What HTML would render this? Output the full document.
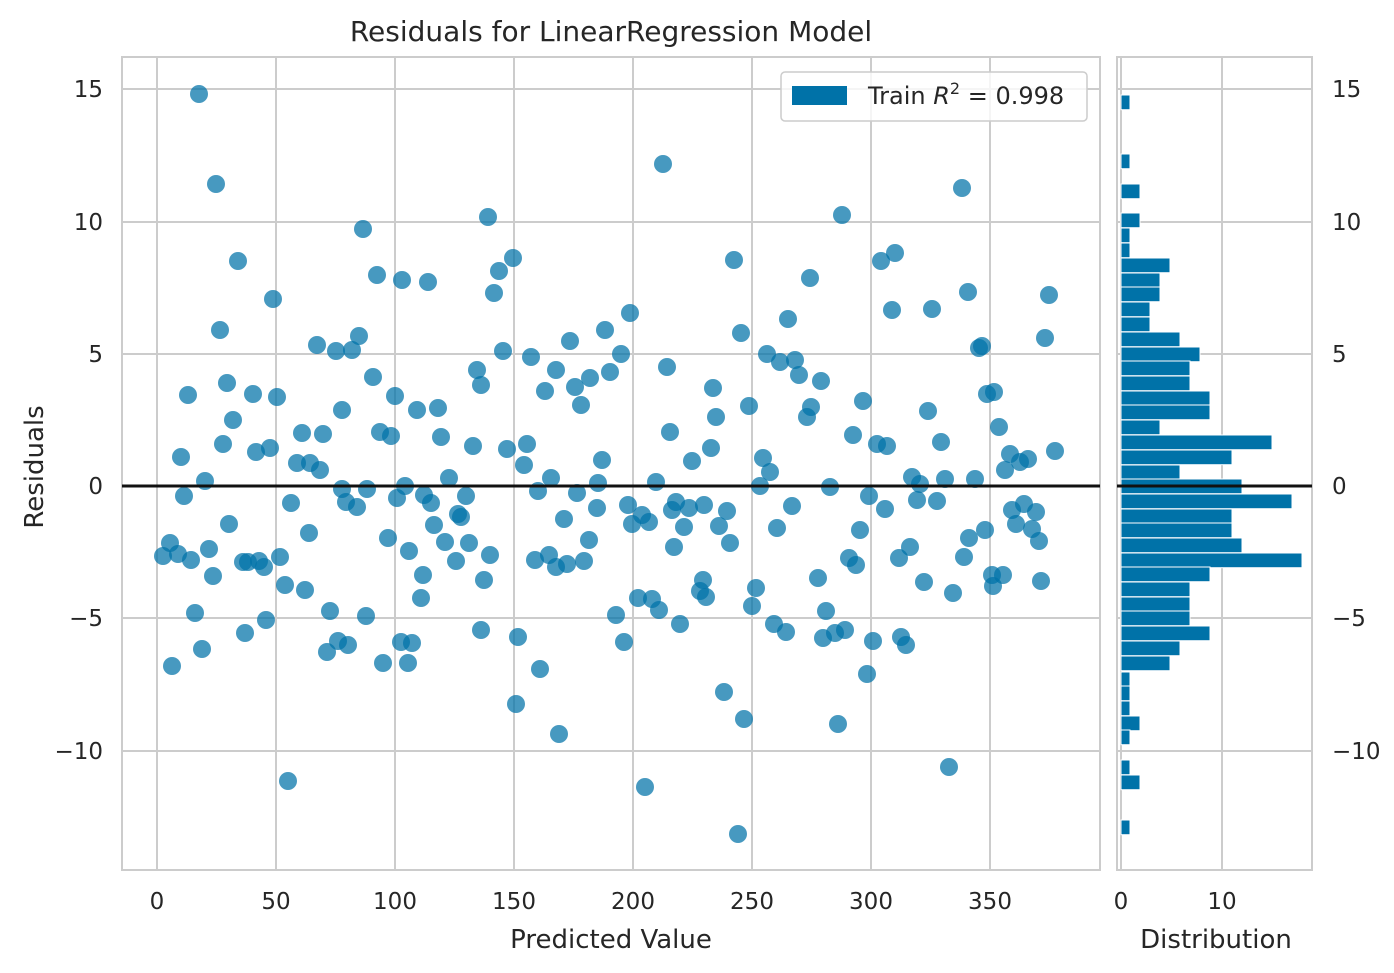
<!DOCTYPE html>
<html><head><meta charset="utf-8"><style>body{margin:0;background:#fff}svg{display:block}text{font-family:"DejaVu Sans","Liberation Sans",sans-serif;fill:#262626}</style></head><body>
<svg width="1394" height="973" xmlns="http://www.w3.org/2000/svg">
<rect width="1394" height="973" fill="#fff"/>
<g stroke="#cccccc" stroke-width="2">
<line x1="157" y1="57" x2="157" y2="870"/><line x1="276" y1="57" x2="276" y2="870"/><line x1="395" y1="57" x2="395" y2="870"/><line x1="514" y1="57" x2="514" y2="870"/><line x1="633" y1="57" x2="633" y2="870"/><line x1="752" y1="57" x2="752" y2="870"/><line x1="871" y1="57" x2="871" y2="870"/><line x1="990" y1="57" x2="990" y2="870"/>
<line x1="122" y1="89" x2="1100" y2="89"/><line x1="122" y1="222" x2="1100" y2="222"/><line x1="122" y1="354" x2="1100" y2="354"/><line x1="122" y1="618" x2="1100" y2="618"/><line x1="122" y1="751" x2="1100" y2="751"/>
<line x1="1121" y1="57" x2="1121" y2="870"/><line x1="1222" y1="57" x2="1222" y2="870"/>
<line x1="1117" y1="89" x2="1312" y2="89"/><line x1="1117" y1="222" x2="1312" y2="222"/><line x1="1117" y1="354" x2="1312" y2="354"/><line x1="1117" y1="618" x2="1312" y2="618"/><line x1="1117" y1="751" x2="1312" y2="751"/>
</g>
<rect x="122" y="57" width="978" height="813" fill="none" stroke="#cccccc" stroke-width="2"/>
<rect x="1117" y="57" width="195" height="813" fill="none" stroke="#cccccc" stroke-width="2"/>
<g fill="#0072A8" fill-opacity="0.72">
<circle cx="199" cy="94" r="9"/><circle cx="216" cy="184" r="9"/><circle cx="663" cy="164" r="9"/><circle cx="488" cy="217" r="9"/><circle cx="363" cy="229" r="9"/><circle cx="962" cy="188" r="9"/><circle cx="842" cy="215" r="9"/><circle cx="238" cy="261" r="9"/><circle cx="895" cy="253" r="9"/><circle cx="881" cy="261" r="9"/><circle cx="734" cy="260" r="9"/><circle cx="499" cy="271" r="9"/><circle cx="513" cy="258" r="9"/><circle cx="494" cy="293" r="9"/><circle cx="810" cy="278" r="9"/><circle cx="402" cy="280" r="9"/><circle cx="428" cy="282" r="9"/><circle cx="377" cy="275" r="9"/><circle cx="273" cy="299" r="9"/><circle cx="1049" cy="295" r="9"/><circle cx="892" cy="310" r="9"/><circle cx="968" cy="292" r="9"/><circle cx="932" cy="309" r="9"/><circle cx="630" cy="313" r="9"/><circle cx="220" cy="330" r="9"/><circle cx="359" cy="336" r="9"/><circle cx="317" cy="345" r="9"/><circle cx="336" cy="351" r="9"/><circle cx="352" cy="350" r="9"/><circle cx="605" cy="330" r="9"/><circle cx="788" cy="319" r="9"/><circle cx="741" cy="333" r="9"/><circle cx="1045" cy="338" r="9"/><circle cx="503" cy="351" r="9"/><circle cx="531" cy="357" r="9"/><circle cx="570" cy="341" r="9"/><circle cx="621" cy="354" r="9"/><circle cx="667" cy="367" r="9"/><circle cx="556" cy="370" r="9"/><circle cx="979" cy="348" r="9"/><circle cx="982" cy="346" r="9"/><circle cx="767" cy="354" r="9"/><circle cx="795" cy="360" r="9"/><circle cx="780" cy="362" r="9"/><circle cx="799" cy="375" r="9"/><circle cx="373" cy="377" r="9"/><circle cx="227" cy="383" r="9"/><circle cx="188" cy="395" r="9"/><circle cx="253" cy="394" r="9"/><circle cx="477" cy="370" r="9"/><circle cx="481" cy="385" r="9"/><circle cx="545" cy="391" r="9"/><circle cx="575" cy="387" r="9"/><circle cx="590" cy="378" r="9"/><circle cx="610" cy="372" r="9"/><circle cx="713" cy="388" r="9"/><circle cx="821" cy="381" r="9"/><circle cx="994" cy="392" r="9"/><circle cx="987" cy="394" r="9"/><circle cx="277" cy="397" r="9"/><circle cx="395" cy="396" r="9"/><circle cx="342" cy="410" r="9"/><circle cx="417" cy="410" r="9"/><circle cx="438" cy="408" r="9"/><circle cx="581" cy="405" r="9"/><circle cx="749" cy="406" r="9"/><circle cx="716" cy="417" r="9"/><circle cx="811" cy="407" r="9"/><circle cx="863" cy="401" r="9"/><circle cx="928" cy="411" r="9"/><circle cx="233" cy="420" r="9"/><circle cx="807" cy="417" r="9"/><circle cx="999" cy="427" r="9"/><circle cx="223" cy="444" r="9"/><circle cx="380" cy="432" r="9"/><circle cx="391" cy="436" r="9"/><circle cx="302" cy="433" r="9"/><circle cx="323" cy="434" r="9"/><circle cx="441" cy="437" r="9"/><circle cx="473" cy="446" r="9"/><circle cx="507" cy="449" r="9"/><circle cx="527" cy="444" r="9"/><circle cx="670" cy="432" r="9"/><circle cx="853" cy="435" r="9"/><circle cx="941" cy="442" r="9"/><circle cx="256" cy="452" r="9"/><circle cx="270" cy="448" r="9"/><circle cx="877" cy="444" r="9"/><circle cx="887" cy="446" r="9"/><circle cx="711" cy="448" r="9"/><circle cx="763" cy="458" r="9"/><circle cx="310" cy="463" r="9"/><circle cx="297" cy="463" r="9"/><circle cx="181" cy="457" r="9"/><circle cx="320" cy="470" r="9"/><circle cx="1010" cy="454" r="9"/><circle cx="1028" cy="459" r="9"/><circle cx="1020" cy="462" r="9"/><circle cx="602" cy="460" r="9"/><circle cx="692" cy="461" r="9"/><circle cx="524" cy="465" r="9"/><circle cx="551" cy="478" r="9"/><circle cx="770" cy="472" r="9"/><circle cx="1055" cy="451" r="9"/><circle cx="1005" cy="470" r="9"/><circle cx="205" cy="481" r="9"/><circle cx="449" cy="478" r="9"/><circle cx="912" cy="477" r="9"/><circle cx="920" cy="484" r="9"/><circle cx="945" cy="479" r="9"/><circle cx="975" cy="479" r="9"/><circle cx="656" cy="482" r="9"/><circle cx="598" cy="483" r="9"/><circle cx="184" cy="496" r="9"/><circle cx="342" cy="489" r="9"/><circle cx="367" cy="489" r="9"/><circle cx="424" cy="495" r="9"/><circle cx="538" cy="491" r="9"/><circle cx="577" cy="493" r="9"/><circle cx="597" cy="508" r="9"/><circle cx="628" cy="505" r="9"/><circle cx="642" cy="515" r="9"/><circle cx="672" cy="510" r="9"/><circle cx="689" cy="508" r="9"/><circle cx="676" cy="502" r="9"/><circle cx="704" cy="505" r="9"/><circle cx="727" cy="511" r="9"/><circle cx="760" cy="486" r="9"/><circle cx="792" cy="506" r="9"/><circle cx="830" cy="487" r="9"/><circle cx="869" cy="496" r="9"/><circle cx="885" cy="509" r="9"/><circle cx="917" cy="500" r="9"/><circle cx="937" cy="501" r="9"/><circle cx="1012" cy="510" r="9"/><circle cx="1024" cy="504" r="9"/><circle cx="1036" cy="512" r="9"/><circle cx="1016" cy="524" r="9"/><circle cx="431" cy="503" r="9"/><circle cx="466" cy="496" r="9"/><circle cx="461" cy="517" r="9"/><circle cx="405" cy="486" r="9"/><circle cx="397" cy="498" r="9"/><circle cx="291" cy="503" r="9"/><circle cx="346" cy="502" r="9"/><circle cx="357" cy="507" r="9"/><circle cx="458" cy="514" r="9"/><circle cx="229" cy="524" r="9"/><circle cx="434" cy="525" r="9"/><circle cx="564" cy="519" r="9"/><circle cx="632" cy="524" r="9"/><circle cx="649" cy="522" r="9"/><circle cx="684" cy="527" r="9"/><circle cx="719" cy="526" r="9"/><circle cx="777" cy="528" r="9"/><circle cx="860" cy="530" r="9"/><circle cx="1032" cy="529" r="9"/><circle cx="163" cy="556" r="9"/><circle cx="170" cy="543" r="9"/><circle cx="178" cy="554" r="9"/><circle cx="191" cy="560" r="9"/><circle cx="209" cy="549" r="9"/><circle cx="213" cy="576" r="9"/><circle cx="243" cy="562" r="9"/><circle cx="248" cy="562" r="9"/><circle cx="259" cy="561" r="9"/><circle cx="264" cy="567" r="9"/><circle cx="280" cy="557" r="9"/><circle cx="309" cy="533" r="9"/><circle cx="388" cy="538" r="9"/><circle cx="409" cy="551" r="9"/><circle cx="445" cy="542" r="9"/><circle cx="469" cy="543" r="9"/><circle cx="456" cy="561" r="9"/><circle cx="490" cy="555" r="9"/><circle cx="535" cy="560" r="9"/><circle cx="549" cy="555" r="9"/><circle cx="567" cy="564" r="9"/><circle cx="584" cy="561" r="9"/><circle cx="589" cy="540" r="9"/><circle cx="674" cy="547" r="9"/><circle cx="730" cy="543" r="9"/><circle cx="849" cy="558" r="9"/><circle cx="856" cy="565" r="9"/><circle cx="910" cy="547" r="9"/><circle cx="899" cy="558" r="9"/><circle cx="964" cy="557" r="9"/><circle cx="969" cy="538" r="9"/><circle cx="985" cy="530" r="9"/><circle cx="1039" cy="541" r="9"/><circle cx="1003" cy="575" r="9"/><circle cx="172" cy="666" r="9"/><circle cx="202" cy="649" r="9"/><circle cx="195" cy="613" r="9"/><circle cx="245" cy="633" r="9"/><circle cx="266" cy="620" r="9"/><circle cx="285" cy="585" r="9"/><circle cx="305" cy="590" r="9"/><circle cx="330" cy="611" r="9"/><circle cx="366" cy="616" r="9"/><circle cx="423" cy="575" r="9"/><circle cx="421" cy="598" r="9"/><circle cx="484" cy="580" r="9"/><circle cx="518" cy="637" r="9"/><circle cx="540" cy="669" r="9"/><circle cx="481" cy="630" r="9"/><circle cx="412" cy="643" r="9"/><circle cx="383" cy="663" r="9"/><circle cx="408" cy="663" r="9"/><circle cx="327" cy="652" r="9"/><circle cx="338" cy="641" r="9"/><circle cx="348" cy="645" r="9"/><circle cx="401" cy="642" r="9"/><circle cx="556" cy="567" r="9"/><circle cx="638" cy="598" r="9"/><circle cx="652" cy="599" r="9"/><circle cx="659" cy="610" r="9"/><circle cx="680" cy="624" r="9"/><circle cx="700" cy="591" r="9"/><circle cx="706" cy="597" r="9"/><circle cx="703" cy="580" r="9"/><circle cx="756" cy="588" r="9"/><circle cx="752" cy="606" r="9"/><circle cx="616" cy="615" r="9"/><circle cx="624" cy="642" r="9"/><circle cx="774" cy="624" r="9"/><circle cx="786" cy="632" r="9"/><circle cx="818" cy="578" r="9"/><circle cx="826" cy="611" r="9"/><circle cx="823" cy="638" r="9"/><circle cx="835" cy="633" r="9"/><circle cx="845" cy="630" r="9"/><circle cx="873" cy="641" r="9"/><circle cx="901" cy="637" r="9"/><circle cx="924" cy="582" r="9"/><circle cx="953" cy="593" r="9"/><circle cx="993" cy="586" r="9"/><circle cx="1041" cy="581" r="9"/><circle cx="867" cy="674" r="9"/><circle cx="906" cy="645" r="9"/><circle cx="724" cy="692" r="9"/><circle cx="516" cy="704" r="9"/><circle cx="744" cy="719" r="9"/><circle cx="838" cy="724" r="9"/><circle cx="559" cy="734" r="9"/><circle cx="288" cy="781" r="9"/><circle cx="645" cy="787" r="9"/><circle cx="949" cy="767" r="9"/><circle cx="738" cy="834" r="9"/><circle cx="992" cy="575" r="9"/>
</g>
<g fill="#0072A8" stroke="#fff" stroke-width="1">
<rect x="1121" y="95" width="9" height="14.7"/><rect x="1121" y="154" width="9" height="14.7"/><rect x="1121" y="184" width="19" height="14.7"/><rect x="1121" y="213" width="19" height="14.7"/><rect x="1121" y="228" width="9" height="14.7"/><rect x="1121" y="243" width="9" height="14.7"/><rect x="1121" y="258" width="49" height="14.7"/><rect x="1121" y="273" width="39" height="14.7"/><rect x="1121" y="287" width="39" height="14.7"/><rect x="1121" y="302" width="29" height="14.7"/><rect x="1121" y="317" width="29" height="14.7"/><rect x="1121" y="332" width="59" height="14.7"/><rect x="1121" y="347" width="79" height="14.7"/><rect x="1121" y="361" width="69" height="14.7"/><rect x="1121" y="376" width="69" height="14.7"/><rect x="1121" y="391" width="89" height="14.7"/><rect x="1121" y="405" width="89" height="14.7"/><rect x="1121" y="420" width="39" height="14.7"/><rect x="1121" y="435" width="151" height="14.7"/><rect x="1121" y="450" width="111" height="14.7"/><rect x="1121" y="465" width="59" height="14.7"/><rect x="1121" y="479" width="121" height="14.7"/><rect x="1121" y="494" width="171" height="14.7"/><rect x="1121" y="509" width="111" height="14.7"/><rect x="1121" y="523" width="111" height="14.7"/><rect x="1121" y="538" width="121" height="14.7"/><rect x="1121" y="553" width="181" height="14.7"/><rect x="1121" y="567" width="89" height="14.7"/><rect x="1121" y="582" width="69" height="14.7"/><rect x="1121" y="597" width="69" height="14.7"/><rect x="1121" y="611" width="69" height="14.7"/><rect x="1121" y="626" width="89" height="14.7"/><rect x="1121" y="641" width="59" height="14.7"/><rect x="1121" y="656" width="49" height="14.7"/><rect x="1121" y="672" width="9" height="14.7"/><rect x="1121" y="686" width="9" height="14.7"/><rect x="1121" y="701" width="9" height="14.7"/><rect x="1121" y="716" width="19" height="14.7"/><rect x="1121" y="730" width="9" height="14.7"/><rect x="1121" y="760" width="9" height="14.7"/><rect x="1121" y="775" width="19" height="14.7"/><rect x="1121" y="820" width="9" height="14.7"/>
</g>
<line x1="122" y1="486" x2="1100" y2="486" stroke="#111" stroke-width="3"/>
<line x1="1117" y1="486" x2="1312" y2="486" stroke="#111" stroke-width="3"/>
<rect x="781" y="72" width="306" height="49" rx="4" fill="#fff" fill-opacity="0.8" stroke="#ccc" stroke-width="1.5"/>
<rect x="792" y="86" width="55" height="19" fill="#0072A8"/>
<text x="868" y="104" font-size="24">Train <tspan font-style="italic">R</tspan><tspan font-size="16" dy="-10">2</tspan><tspan dy="10"> = 0.998</tspan></text>
<text x="611" y="41" font-size="28" text-anchor="middle">Residuals for LinearRegression Model</text>
<g font-size="23" text-anchor="middle">
<text x="157" y="909">0</text><text x="276" y="909">50</text><text x="395" y="909">100</text><text x="514" y="909">150</text><text x="633" y="909">200</text><text x="752" y="909">250</text><text x="871" y="909">300</text><text x="990" y="909">350</text>
<text x="1121" y="909">0</text><text x="1222" y="909">10</text>
</g>
<g font-size="23" text-anchor="end">
<text x="103" y="97">15</text><text x="103" y="230">10</text><text x="103" y="362">5</text><text x="103" y="494">0</text><text x="103" y="626">−5</text><text x="103" y="759">−10</text>
</g>
<g font-size="23" text-anchor="start">
<text x="1332" y="97">15</text><text x="1332" y="230">10</text><text x="1332" y="362">5</text><text x="1332" y="494">0</text><text x="1332" y="626">−5</text><text x="1332" y="759">−10</text>
</g>
<text x="611" y="948" font-size="26" text-anchor="middle">Predicted Value</text>
<text x="1216" y="948" font-size="26" text-anchor="middle">Distribution</text>
<text transform="translate(43,467) rotate(-90)" font-size="26" text-anchor="middle">Residuals</text>
</svg>
</body></html>
